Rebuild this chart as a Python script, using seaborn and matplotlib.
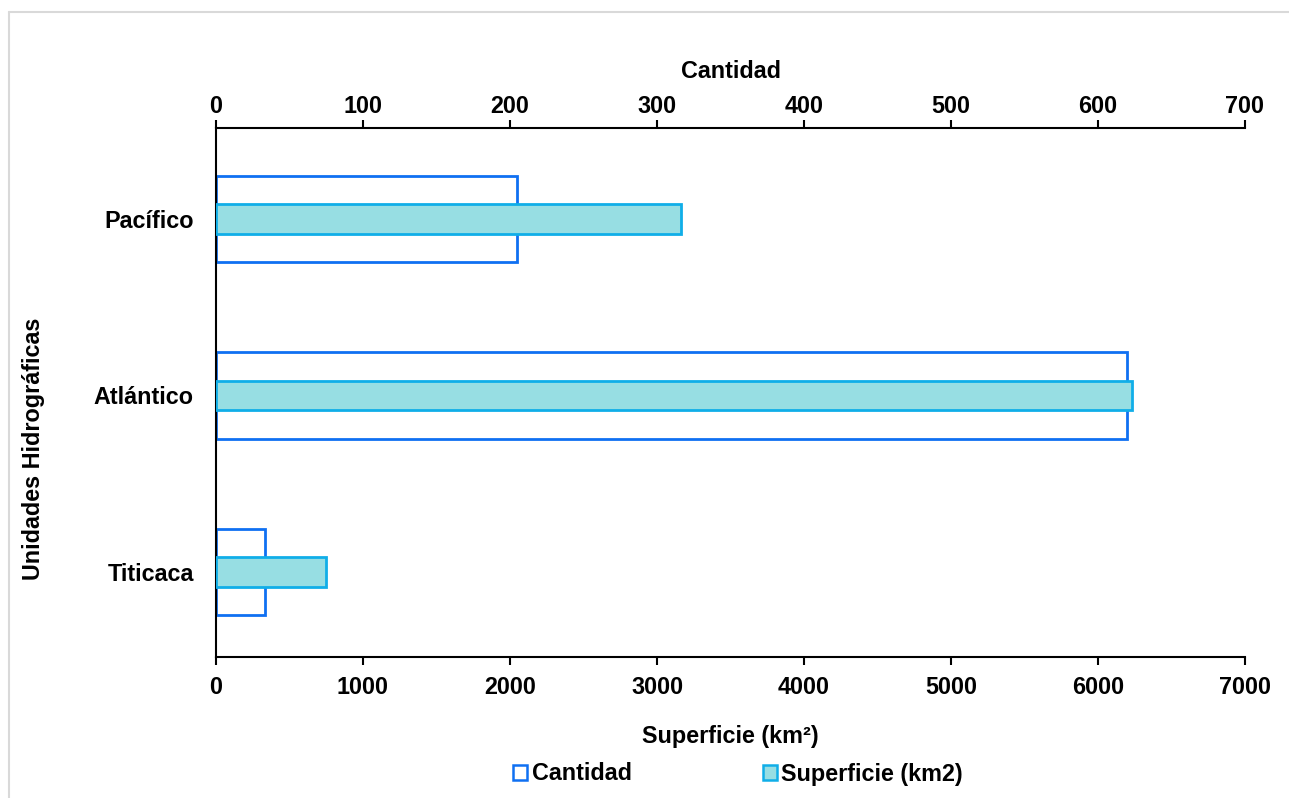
import matplotlib
matplotlib.use("Agg")
import matplotlib.pyplot as plt
from matplotlib.lines import Line2D
from matplotlib.patches import Patch
import seaborn as sns
import pandas as pd

# Unidades hidrográficas: cantidad de cuerpos de agua y superficie total (km²)
unidades = ["Pacífico", "Atlántico", "Titicaca"]
cantidad = [205, 620, 33]
superficie = [3163, 6231, 748]

cantidad_ticks = [0, 100, 200, 300, 400, 500, 600, 700]
superficie_ticks = [0, 1000, 2000, 3000, 4000, 5000, 6000, 7000]

sns.set_theme(style="white")
plt.rcParams["font.family"] = ["Liberation Sans", "DejaVu Sans"]
plt.rcParams["font.weight"] = "bold"
for key in ("text.color", "axes.labelcolor", "xtick.color", "ytick.color"):
    plt.rcParams[key] = "black"

FS = 16.8
BLUE = "#0F70F2"
CYAN_FILL = "#97DEE3"
CYAN_EDGE = "#10AEE8"

df = pd.DataFrame({"Unidad": unidades, "Cantidad": cantidad, "Superficie": superficie})

fig = plt.figure(figsize=(12.89, 7.98), dpi=100)
ax = fig.add_axes([216 / 1289, 1 - 657 / 798, (1245 - 216) / 1289, (657 - 128) / 798])
ax2 = ax.twiny()

# Cantidad: outlined bars on the top axis
sns.barplot(data=df, x="Cantidad", y="Unidad", orient="h", width=0.49,
            fill=False, color=BLUE, linewidth=2, ax=ax, saturation=1)
# Superficie: filled bars on the bottom axis
sns.barplot(data=df, x="Superficie", y="Unidad", orient="h", width=0.17,
            color=CYAN_FILL, edgecolor=CYAN_EDGE, linewidth=2, ax=ax2, saturation=1)

ax.set_xlim(0, 700)
ax2.set_xlim(0, 7000)
ax.set_ylim(2.483, -0.517)

# Cantidad scale on top, Superficie at the bottom
ax.xaxis.tick_top()
ax.xaxis.set_label_position("top")
ax2.xaxis.tick_bottom()
ax2.xaxis.set_label_position("bottom")

ax.set_xticks(cantidad_ticks)
ax.set_xticklabels([str(t) for t in cantidad_ticks], fontsize=FS, fontweight="bold")
ax2.set_xticks(superficie_ticks)
ax2.set_xticklabels([str(t) for t in superficie_ticks], fontsize=FS, fontweight="bold")

ax.set_yticks(range(len(unidades)))
ax.set_yticklabels(unidades, fontsize=FS, fontweight="bold")

ax.set_xlabel("Cantidad", fontsize=FS, fontweight="bold", labelpad=12)
ax2.set_xlabel("Superficie (km²)", fontsize=FS, fontweight="bold", labelpad=18.5)
ax.set_ylabel("")
ax2.set_ylabel("")

for a in (ax, ax2):
    for side in ("left", "right", "top", "bottom"):
        a.spines[side].set_visible(False)
for a, side in ((ax, "left"), (ax, "top"), (ax2, "bottom")):
    a.spines[side].set_visible(True)
    a.spines[side].set_color("black")
    a.spines[side].set_linewidth(1.5)

ax.tick_params(axis="x", direction="out", length=6, width=1.5, color="black", pad=1.5,
               top=True, bottom=False, labeltop=True, labelbottom=False)
ax2.tick_params(axis="x", direction="out", length=6, width=1.5, color="black", pad=8,
                top=False, bottom=True, labeltop=False, labelbottom=True)
ax.tick_params(axis="y", length=0, pad=16)
ax.grid(False)
ax2.grid(False)

fig.text(34 / 1289, 1 - 449 / 798, "Unidades Hidrográficas", rotation=90,
         ha="center", va="center", fontsize=FS, fontweight="bold")

handles = [
    Patch(facecolor="white", edgecolor=BLUE, linewidth=1.8, label="Cantidad"),
    Patch(facecolor=CYAN_FILL, edgecolor=CYAN_EDGE, linewidth=1.8, label="Superficie (km2)"),
]
fig.legend(handles=handles, loc="center", bbox_to_anchor=(738 / 1289, 1 - 774 / 798),
           ncol=2, frameon=False, handlelength=0.6, handleheight=0.6,
           handletextpad=0.2, columnspacing=5.6, prop={"weight": "bold", "size": FS})

# Light outer frame
fig.add_artist(Line2D([9 / 1289, 1], [1 - 12 / 798, 1 - 12 / 798],
                      transform=fig.transFigure, color="#d9d9d9", linewidth=1.5))
fig.add_artist(Line2D([9 / 1289, 9 / 1289], [0, 1 - 12 / 798],
                      transform=fig.transFigure, color="#d9d9d9", linewidth=1.5))

fig.savefig("out.png", dpi=100)
